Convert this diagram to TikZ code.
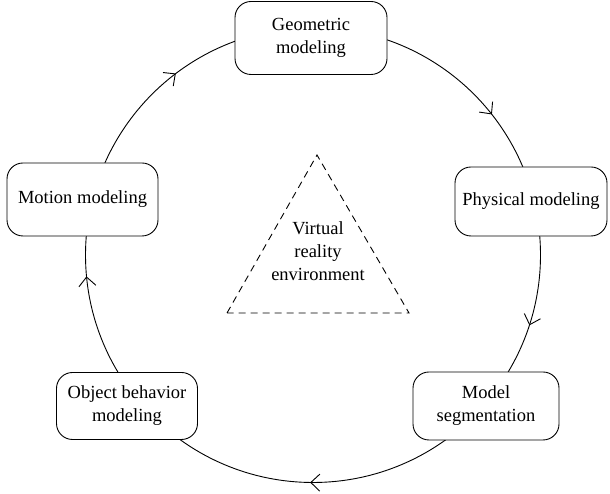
\documentclass[tikz,border=0pt]{standalone}
\usepackage{fontspec}
\setmainfont{Liberation Serif}
\usetikzlibrary{arrows.meta,decorations.markings}

\tikzset{
  stage/.style={draw, line width=0.9pt, rounded corners=16pt, fill=white,
    align=center, inner sep=0pt, font=\fontsize{18.5}{23}\selectfont},
  cycleline/.style={line width=0.9pt},
  flowtip/.tip={Straight Barb[length=9pt,width=17pt,line width=0.9pt]}
}

\begin{document}
\begin{tikzpicture}[x=1pt,y=1pt]
      \useasboundingbox (0,0) rectangle (610,494);

      % draw the loop, clockwise with arrows between the stages
      \coordinate (c) at (313,239);
      \draw[cycleline, postaction={decorate}, decoration={markings,
          mark=at position 0.144 with {\arrow{flowtip}},
          mark=at position 0.300 with {\arrow{flowtip}},
          mark=at position 0.502 with {\arrow{flowtip}},
          mark=at position 0.735 with {\arrow{flowtip}},
          mark=at position 0.897 with {\arrow{flowtip}}}]
        (c) ++(90:227.5) arc[start angle=90, end angle=-270, radius=227.5];

      % the five stages
      \node[stage, minimum width=152, minimum height=73] (geo) at (311,456) {Geometric\\modeling};
      \node[stage, minimum width=152, minimum height=69] (phys) at (531,292.5) {Physical modeling};
      \node[stage, minimum width=146, minimum height=68] (seg) at (486,88) {Model\\segmentation};
      \node[stage, minimum width=141, minimum height=67] (obj) at (127,88) {Object behavior\\modeling};
      \node[stage, minimum width=151, minimum height=73] (motion) at (82.5,294.5) {Motion modeling};

      % draw the dashed triangle in the middle
      \coordinate (top) at (317,339);
      \coordinate (bl) at (227,181);
      \coordinate (br) at (409,181);
      \draw[line width=0.9pt, dash pattern=on 7pt off 5pt] (bl) -- (top) -- (br) -- cycle;
      \node[align=center, font=\fontsize{18.5}{23}\selectfont] (vre) at (318,243) {Virtual\\reality\\environment};
\end{tikzpicture}
\end{document}
